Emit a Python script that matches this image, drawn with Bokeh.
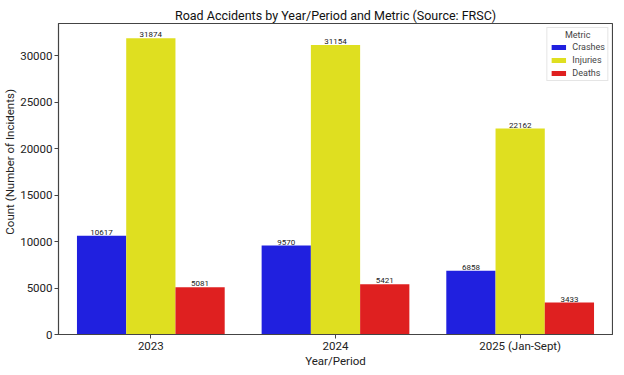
from bokeh.plotting import figure
from bokeh.models import FactorRange, Range1d, FixedTicker, Legend, LegendItem, ColumnDataSource
from bokeh.transform import dodge
from bokeh.core.properties import value
from bokeh.embed import file_html
from bokeh.resources import INLINE

years = ["2023", "2024", "2025 (Jan-Sept)"]
metrics = ["Crashes", "Injuries", "Deaths"]
crashes = [10617, 9570, 6858]
injuries = [31874, 31154, 22162]
deaths = [5081, 5421, 3433]
y_ticks = [0, 5000, 10000, 15000, 20000, 25000, 30000]

colors = ["#2020df", "#dfdf20", "#df2020"]
FONT = "Roboto"
NB = "\u00a0"

series = [crashes, injuries, deaths]
ymax = max(max(s) for s in series) * 1.05

p = figure(x_range=FactorRange(factors=years, range_padding=0),
           y_range=Range1d(0, ymax),
           frame_width=554, frame_height=311,
           output_backend="svg", toolbar_location=None,
           min_border_left=58, min_border_right=1, min_border_top=23, min_border_bottom=30)

p.title.text = "Road Accidents by Year/Period and Metric (Source: FRSC)"
p.title.align = "center"
p.title.text_font = FONT
p.title.text_font_size = "12.5px"
p.title.text_font_style = "normal"
p.title.text_color = "#111111"
p.title.standoff = 2

bw = 0.8 / 3
offsets = [-bw, 0.0, bw]
items = []
for name, vals, col, off in zip(metrics, series, colors, offsets):
    src = ColumnDataSource(dict(x=years, top=vals, lbl=[str(v) for v in vals]))
    r = p.vbar(x=dodge("x", off, range=p.x_range), top="top", width=bw, source=src,
               fill_color=col, line_color=None)
    p.text(x=dodge("x", off, range=p.x_range), y="top", text="lbl", source=src,
           text_align="center", text_baseline="bottom", y_offset=-1,
           text_font=value(FONT), text_font_size="8px", text_color="#222222")
    items.append(LegendItem(label=name, renderers=[r]))

legend = Legend(items=items, location="top_right", title=NB * 7 + "Metric")
legend.title_text_font = FONT
legend.title_text_font_size = "9px"
legend.title_text_font_style = "normal"
legend.title_standoff = 2
legend.label_text_font = FONT
legend.label_text_font_size = "9px"
legend.label_height = 10
legend.label_width = 10
legend.glyph_height = 6
legend.glyph_width = 18
legend.spacing = 3
legend.padding = 2
legend.margin = 4
legend.label_standoff = 5
legend.border_line_color = "#cccccc"
legend.background_fill_alpha = 0.85
p.add_layout(legend)

p.xgrid.grid_line_color = None
p.ygrid.grid_line_color = None
p.outline_line_color = "#444444"
p.outline_line_width = 1.2

p.yaxis.ticker = FixedTicker(ticks=y_ticks)
p.yaxis.axis_label = NB * 12 + "Count (Number of Incidents)"
p.xaxis.axis_label = "Year/Period"
for ax in (p.xaxis[0], p.yaxis[0]):
    ax.axis_line_color = "#444444"
    ax.major_tick_line_color = "#444444"
    ax.major_tick_out = 4
    ax.major_tick_in = 0
    ax.minor_tick_line_color = None
    ax.major_label_text_font = FONT
    ax.major_label_text_font_size = "11.5px"
    ax.major_label_text_color = "#222222"
    ax.axis_label_text_font = FONT
    ax.axis_label_text_font_size = "11.5px"
    ax.axis_label_text_font_style = "normal"
    ax.axis_label_text_color = "#222222"
p.xaxis.major_label_standoff = 0
p.xaxis.axis_label_standoff = -2
p.yaxis.major_label_standoff = 2
p.yaxis.axis_label_standoff = 0
p.yaxis.major_label_orientation = "horizontal"

open("out.html", "w").write(file_html(p, INLINE))
